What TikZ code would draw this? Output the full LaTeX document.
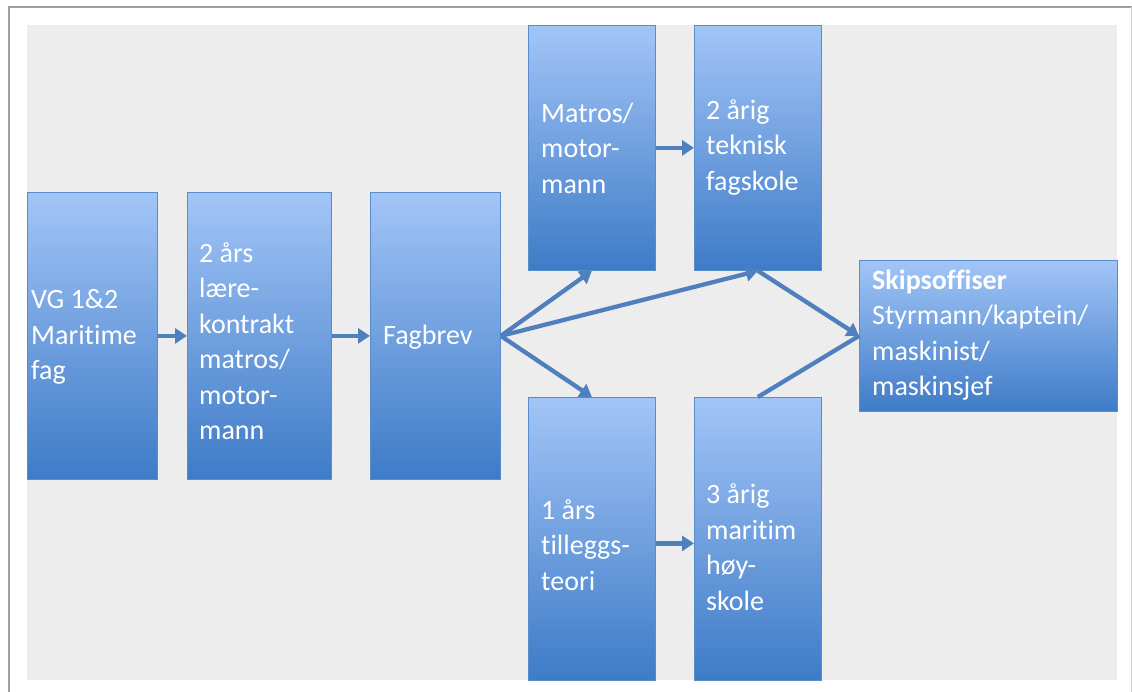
\documentclass[tikz,border=0pt]{standalone}
\usepackage{fontspec}
\setmainfont{Carlito}[Ligatures={NoCommon}]
\usetikzlibrary{arrows.meta}
\definecolor{bgc}{HTML}{EDEDED}
\definecolor{boxtop}{HTML}{A2C5F7}
\definecolor{boxbot}{HTML}{3E7BC7}
\definecolor{boxedge}{HTML}{5A8BCB}
\definecolor{arrowc}{HTML}{4F80BD}
\definecolor{framec}{HTML}{A0A0A0}
\tikzset{
  box/.style={draw=boxedge, line width=0.8pt, top color=boxtop, bottom color=boxbot,
    inner sep=0pt, anchor=north west},
  txt/.style={text=white, align=left, anchor=west, inner sep=0pt,
    font=\fontsize{28}{35.5}\selectfont},
  conn/.style={draw=arrowc, line width=4.3pt, -{Triangle[length=12pt,width=15pt]}},
}
\begin{document}
\begin{tikzpicture}[x=1pt,y=-1pt]
\useasboundingbox (0,0) rectangle (1132,692);
\fill[white] (0,0) rectangle (1132,692);
\draw[framec, line width=1.5pt] (9,692) -- (9,7) -- (1132,7);
\draw[framec!50, line width=0.8pt] (1131,7) -- (1131,692);
\fill[bgc] (27,25) rectangle (1117,680);

\node[box, minimum width=130pt, minimum height=287pt] (vg) at (27,192) {};
\node[box, minimum width=144pt, minimum height=287pt] (ars) at (187,192) {};
\node[box, minimum width=130pt, minimum height=287pt] (fag) at (370,192) {};
\node[box, minimum width=127pt, minimum height=245pt] (mat) at (528,25) {};
\node[box, minimum width=127pt, minimum height=245pt] (tek) at (694,25) {};
\node[box, minimum width=127pt, minimum height=283pt] (til) at (528,397) {};
\node[box, minimum width=127pt, minimum height=283pt] (hoy) at (694,397) {};
\node[box, minimum width=258pt, minimum height=151pt] (skip) at (859,260) {};

\node[txt] (vgt) at (31,337) {VG 1\&2\\Maritime\\fag};
\node[txt] (arst) at (199,341) {2 års\\lære-\\kontrakt\\matros/\\motor-\\mann};
\node[txt] (fagt) at (383,337) {Fagbrev};
\node[txt] (matt) at (541,148) {Matros/\\motor-\\mann};
\node[txt] (tekt) at (706,147) {2 årig\\teknisk\\fagskole};
\node[txt] (tilt) at (541,545) {1 års\\tilleggs-\\teori};
\node[txt] (hoyt) at (706,547) {3 årig\\maritim\\høy-\\skole};
\node[txt] (skipt) at (872,335) {\textbf{Skipsoffiser}\\Styrmann/kaptein/\\maskinist/\\maskinsjef};

\draw[conn] (vg.east) -- (ars.west);
\draw[conn] (ars.east) -- (fag.west);
\draw[conn] (fag.east) -- (mat.south);
\draw[conn] (fag.east) -- (tek.south);
\draw[conn] (fag.east) -- (til.north);
\draw[conn] (mat.east) -- (tek.west);
\draw[conn] ([yshift=-4.5pt]til.east) -- ([yshift=-4.5pt]hoy.west);
\draw[conn] (tek.south) -- (skip.west);
\draw[conn, -] (hoy.north) -- (skip.west);
\end{tikzpicture}
\end{document}
